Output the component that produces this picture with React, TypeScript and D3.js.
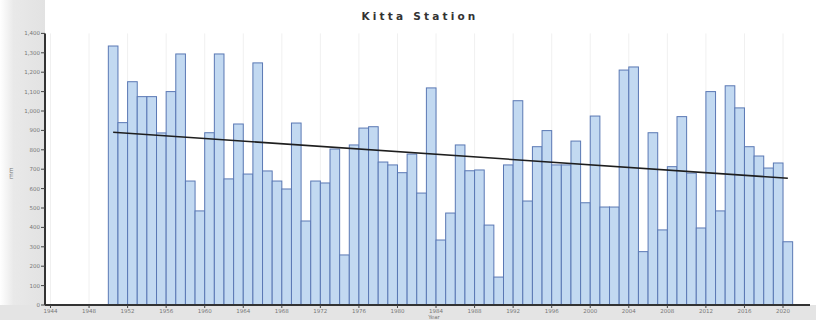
import React from "react";
import * as d3 from "d3";

// Annual totals at Kitta Station (mm), one value per year
const years: number[] = d3.range(1950, 2021);
const rainfall: number[] = [
  1335, 940, 1151, 1074, 1074, 887, 1100, 1294, 639, 485,
  888, 1294, 650, 933, 675, 1248, 691, 639, 598, 938,
  433, 639, 629, 804, 258, 825, 912, 919, 737, 722,
  682, 778, 577, 1119, 335, 474, 825, 692, 696, 412,
  144, 722, 1053, 536, 816, 899, 722, 722, 845, 527,
  974, 505, 505, 1211, 1227, 275, 888, 387, 713, 971,
  680, 397, 1100, 485, 1130, 1016, 816, 768, 706, 732,
  326,
];
const yTicks: number[] = d3.range(0, 1401, 100);
const xTicks: number[] = d3.range(1944, 2021, 4);

const W = 816;
const H = 320;
const left = 45;
const right = 810;
const top = 33.4;
const bottom = 305;

export default function App() {
  const x = d3.scaleLinear().domain([1943.43, 2022.8]).range([left, right]);
  const y = d3.scaleLinear().domain([0, 1400]).range([bottom, top]);

  // least-squares trend through the yearly values
  const n = years.length;
  const mx = d3.mean(years)!;
  const my = d3.mean(rainfall)!;
  let sxy = 0;
  let sxx = 0;
  years.forEach((yr, i) => {
    sxy += (yr - mx) * (rainfall[i] - my);
    sxx += (yr - mx) * (yr - mx);
  });
  const slope = sxy / sxx;
  const icpt = my - slope * mx;
  const trend = [years[0] + 0.5, years[n - 1] + 0.5].map((t) => [t, icpt + slope * (t - 0.5)] as [number, number]);
  const trendPath = d3
    .line<[number, number]>()
    .x((d) => x(d[0]))
    .y((d) => y(d[1]))(trend);

  return (
    <svg
      width={W}
      height={H}
      style={{ position: "absolute", left: 0, top: 0, background: "#fff" }}
      fontFamily="DejaVu Sans, sans-serif"
    >
      <defs>
        <linearGradient id="axisShade" x1="0" x2="1" y1="0" y2="0">
          <stop offset="0" stopColor="#ffffff" />
          <stop offset="0.3" stopColor="#e9e9e9" />
          <stop offset="1" stopColor="#e2e2e2" />
        </linearGradient>
      </defs>
      <rect x={0} y={0} width={left} height={H} fill="url(#axisShade)" />
      <rect x={0} y={bottom} width={W} height={H - bottom} fill="#e4e4e4" />

      <text
        x={W / 2 + 12}
        y={20}
        textAnchor="middle"
        fontSize={10.5}
        fontWeight="bold"
        letterSpacing={3.2}
        fill="#333"
      >
        Kitta Station
      </text>

      {/* vertical grid */}
      {xTicks.map((t) => (
        <line key={"g" + t} x1={x(t)} x2={x(t)} y1={top} y2={bottom} stroke="#f0f0f0" strokeWidth={1} />
      ))}

      {/* bars */}
      {years.map((yr, i) => (
        <rect
          key={yr}
          x={x(yr)}
          y={y(rainfall[i])}
          width={x(yr + 1) - x(yr)}
          height={bottom - y(rainfall[i])}
          fill="#c2d9f1"
          stroke="#5a78b4"
          strokeWidth={1}
        />
      ))}

      {trendPath && <path d={trendPath} fill="none" stroke="#1e1e1e" strokeWidth={1.6} />}

      {/* y axis */}
      <line x1={left} x2={left} y1={top} y2={bottom} stroke="#333" strokeWidth={2} />
      {yTicks.map((t) => (
        <g key={"y" + t}>
          <line x1={left - 4} x2={left} y1={y(t)} y2={y(t)} stroke="#444" />
          <text x={left - 5} y={y(t) + 2} textAnchor="end" fontSize={5.5} fill="#777">
            {d3.format(",")(t)}
          </text>
        </g>
      ))}
      <text
        transform={`translate(13,${(top + bottom) / 2 + 4}) rotate(-90)`}
        textAnchor="middle"
        fontSize={6}
        fill="#777"
      >
        mm
      </text>

      {/* x axis */}
      <line x1={left} x2={right} y1={bottom} y2={bottom} stroke="#333" strokeWidth={2} />
      {xTicks.map((t) => (
        <g key={"x" + t}>
          <line x1={x(t)} x2={x(t)} y1={bottom} y2={bottom + 3} stroke="#444" />
          <text x={x(t)} y={bottom + 8} textAnchor="middle" fontSize={5.5} fill="#777">
            {t}
          </text>
        </g>
      ))}
      <text x={434} y={318.5} textAnchor="middle" fontSize={5.5} fill="#777">
        Year
      </text>
    </svg>
  );
}
